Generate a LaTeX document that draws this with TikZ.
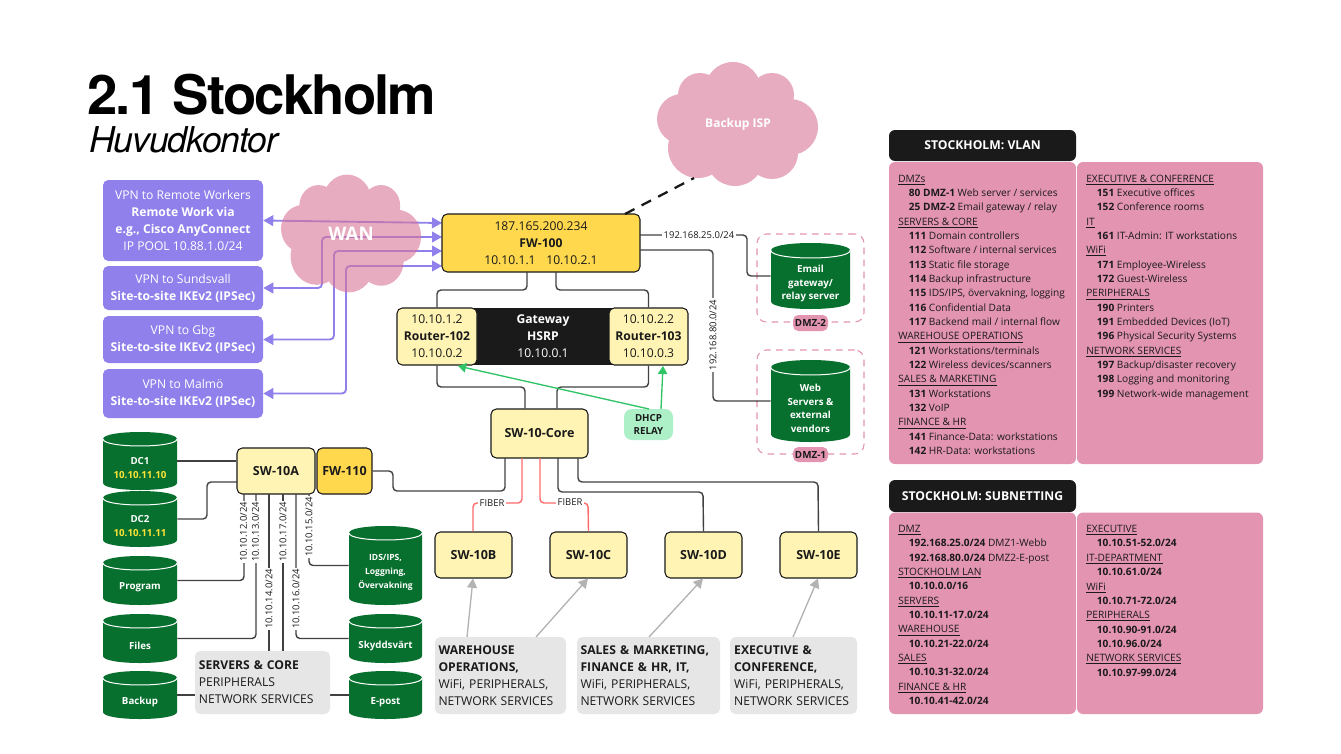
\documentclass[tikz,border=0pt]{standalone}
\usepackage{fontspec}
\setmainfont{Open Sans}
\newfontfamily\titlefont[LetterSpace=-3.4]{TeX Gyre Heros}
\newfontfamily\subtitlefont[LetterSpace=-3.2]{TeX Gyre Heros}
\usetikzlibrary{arrows.meta,calc}
\definecolor{cvpn}{HTML}{9080EC}
\definecolor{cpink}{HTML}{E394B0}
\definecolor{ccloud}{HTML}{DA7599}
\definecolor{cyel}{HTML}{FFF4B3}
\definecolor{cgold}{HTML}{FFD84D}
\definecolor{cblack}{HTML}{1A1A1A}
\definecolor{cgreen}{HTML}{08702E}
\definecolor{cgrey}{HTML}{E6E6E6}
\definecolor{cdhcp}{HTML}{ADF0C7}
\definecolor{cline}{HTML}{414141}
\definecolor{cred}{HTML}{FF6B6B}
\definecolor{cdhcpline}{HTML}{2FC466}
\definecolor{cgl}{HTML}{B3B3B3}
\definecolor{ctext}{HTML}{1A1A1A}
\newcommand{\fs}[2]{\fontsize{#1}{#2}\selectfont}
\newcommand{\bx}[7]{\node[#6,minimum width={(#4-#2)*0.75pt},minimum height={(#5-#3)*0.75pt}] (#1) at ({(#2+#4)/2},{(#3+#5)/2}) {#7};}
\newcommand{\cyl}[7]{%
 \pgfmathsetmacro{\ym}{#3+#6}\pgfmathsetmacro{\yt}{#3-#6/3}\pgfmathsetmacro{\ya}{#3+#6+1.33*#6}%
 \pgfmathsetmacro{\yb}{#5-#6}\pgfmathsetmacro{\yc}{#5+#6/3}%
 \fill[cgreen] (#2,\ym) .. controls (#2,\yt) and (#4,\yt) .. (#4,\ym) -- (#4,\yb) .. controls (#4,\yc) and (#2,\yc) .. (#2,\yb) -- cycle;
 \draw[white,line width=0.75pt] (#2,\ym) .. controls (#2,\ya) and (#4,\ya) .. (#4,\ym);
 \node[minimum width={(#4-#2)*0.75pt},minimum height={(#5-#3)*0.75pt},inner sep=0pt] (#1) at ({(#2+#4)/2},{(#3+#5)/2}) {};
 \node[cyltext] (#1-t) at ({(#2+#4)/2},{(#3+2*#6+#5)/2}) {#7};}
\newcommand{\cloudshape}[4]{%
 \begin{scope}[transparency group,opacity=.6]
 \begin{scope}[shift={(#1,#2)},xscale=#3,yscale=#4]
 \fill[ccloud] (-5,-34) circle[radius=28] (-38,-29) circle[radius=22] (34,-29) circle[radius=22] (-56,-5) circle[radius=25] (52,3) circle[radius=28] (-40,24) circle[radius=30] (-3,33) circle[radius=29] (34,29) circle[radius=26] (0,0) circle[radius=50];
 \end{scope}
 \end{scope}}
\newcommand{\hd}[1]{\underline{#1}}
\newcommand{\en}[2]{\hspace*{8pt}\textbf{#1} #2}
\tikzset{
 vpnbox/.style={fill=cvpn,rounded corners=4pt,inner sep=0pt,align=center,text=white,font=\fs{9.1}{12.75}},
 yelbox/.style={fill=cyel,draw=cblack,line width=.8pt,rounded corners=4pt,inner sep=0pt,align=center,text=ctext,font=\fs{9.1}{12.75}},
 goldbox/.style={yelbox,fill=cgold},
 blackbox/.style={fill=cblack,inner sep=0pt,align=center,text=white,font=\fs{9.1}{12.75}},
 greybox/.style={fill=cgrey,rounded corners=4pt,inner sep=0pt,text=ctext,font=\fs{9.1}{12.75},align=left},
 swtext/.style={font=\fs{9.4}{12.75}\bfseries},
 cyltext/.style={align=center,text=white,inner sep=0pt,font=\fs{7.3}{10.2}\bfseries},
 conn/.style={draw=cline,line width=1.05pt,rounded corners=3pt},
 fiber/.style={draw=cred,line width=1.05pt,rounded corners=3pt},
 vpnline/.style={draw=cvpn,line width=1.4pt,rounded corners=3pt},
 vpntip/.style={{Triangle[length=7.5pt,width=8pt]}-{Triangle[length=7.5pt,width=8pt]}},
 greenline/.style={draw=cdhcpline,line width=1pt,-{Triangle[length=6pt,width=7pt]}},
 greyline/.style={draw=cgl,line width=1pt,-{Triangle[length=7pt,width=7.5pt]}},
 lab/.style={fill=white,inner xsep=1pt,inner ysep=.5pt,text=ctext,font=\fs{7.1}{8.5}},
 dmzframe/.style={draw=cpink,dashed,dash pattern=on 5pt off 4pt,line width=.8pt,rounded corners=7pt},
 badge/.style={fill=cpink,rounded corners=4pt,inner sep=0pt,text=ctext,font=\fs{7.4}{9}\bfseries},
 panelhead/.style={fill=cblack,rounded corners=4.5pt,inner sep=0pt,text=white,font=\fs{9.15}{11}\bfseries},
 panel/.style={fill=cpink,rounded corners=4.5pt,inner sep=0pt},
 paneltext/.style={anchor=north west,inner sep=0pt,align=left,text=ctext,font=\fs{7.6}{10.76}},
}
\begin{document}
\begin{tikzpicture}[x=0.75pt,y=-0.75pt]
\useasboundingbox (0,0) rectangle (1341,753);
\fill[white] (0,0) rectangle (1341,753);
% title
\node[anchor=base west,inner sep=0pt,text=black,font=\titlefont\fs{40.9}{44}\bfseries] (title) at (87,114) {2.1 Stockholm};
\node[anchor=base west,inner sep=0pt,text=black,font=\subtitlefont\fs{26.7}{30}\itshape] (subtitle) at (89,152) {Huvudkontor};
% fw coordinates
\coordinate (f1) at (442,223);
\coordinate (f2) at (442,237);
\coordinate (f3) at (442,251);
\coordinate (f4) at (442,266);
\coordinate (v2) at (322,260);
\coordinate (v3) at (334,300);
\coordinate (v4) at (346,330);
% vpn boxes
\bx{vpn1}{103}{180}{263}{261}{vpnbox}{VPN to Remote Workers\\\textbf{Remote Work via}\\\textbf{e.g., Cisco AnyConnect}\\IP POOL 10.88.1.0/24}
\bx{vpn2}{103}{266}{263}{310}{vpnbox}{VPN to Sundsvall\\\textbf{Site-to-site IKEv2 (IPSec)}}
\bx{vpn3}{103}{316}{263}{363}{vpnbox}{VPN to Gbg\\\textbf{Site-to-site IKEv2 (IPSec)}}
\bx{vpn4}{103}{369}{263}{418}{vpnbox}{VPN to Malmö\\\textbf{Site-to-site IKEv2 (IPSec)}}
% vpn lines
\draw[vpnline,vpntip] (vpn1.east) -- (f1);
\draw[vpnline,vpntip] (vpn2.east) -| (v2) |- (f2);
\draw[vpnline,vpntip] (vpn3.east) -| (v3) |- (f3);
\draw[vpnline,vpntip] (vpn4.east) -| (v4) |- (f4);
% clouds
\cloudshape{351.5}{233.5}{0.87}{0.95}
\cloudshape{738}{124}{1}{1}
\node[inner sep=0pt,minimum width=106pt,minimum height=88pt,text=white,font=\fs{14}{16}\bfseries] (wan) at (351,234) {WAN};
\node[inner sep=0pt,minimum width=123pt,minimum height=91pt,text=white,font=\fs{9}{11}\bfseries] (isp) at (738,124.5) {Backup ISP};
% black hsrp + routers
\bx{hsrp}{470}{308}{616}{365}{blackbox}{\textbf{Gateway}\\\textbf{HSRP}\\10.10.0.1}
\bx{fw100}{442}{214}{640}{272}{goldbox}{187.165.200.234\\\textbf{FW-100}\\10.10.1.1\hspace{8pt}10.10.2.1}
\bx{r102}{397}{308}{477}{365}{yelbox}{10.10.1.2\\\textbf{Router-102}\\10.10.0.2}
\bx{r103}{609}{308}{688}{365}{yelbox}{10.10.2.2\\\textbf{Router-103}\\10.10.0.3}
\bx{core}{491}{409}{588}{458}{yelbox,swtext}{SW-10-Core}
\bx{dhcp}{624}{409}{673}{440}{fill=cdhcp,rounded corners=6pt,inner sep=0pt,align=center,text=ctext,font=\fs{7.3}{9.8}\bfseries}{DHCP\\RELAY}
% dashed backup
\coordinate (fwtop) at (625,214);
\coordinate (isplow) at (694,178);
\draw[black!90,line width=1.7pt,dash pattern=on 8pt off 6pt] (fwtop) -- (isplow);
% fw to routers
\coordinate (a1) at (527,272); \coordinate (a2) at (556,272);
\coordinate (a3) at (527,290); \coordinate (a4) at (556,290);
\draw[conn] (a1) -- (a3) -| (r102.north);
\draw[conn] (a2) -- (a4) -| (r103.north);
\coordinate (b1) at (525,387); \coordinate (b2) at (557,387);
\draw[conn] (r102.south) |- (b1) -- (b1 |- core.north);
\draw[conn] (r103.south) |- (b2) -- (b2 |- core.north);
% dhcp
\coordinate (d1) at (649,409); \coordinate (d2) at (661,409);
\coordinate (r2) at (458,366); \coordinate (r3) at (663,366);
\draw[greenline] (d1) -- (r2);
\draw[greenline] (d2) -- (r3);
% DMZ
\node[dmzframe,minimum width=80.25pt,minimum height=66pt] (dmz2f) at (810.5,278) {};
\node[dmzframe,minimum width=80.25pt,minimum height=78pt] (dmz1f) at (810.5,402) {};
\cyl{email}{771}{243}{850}{309}{7.5}{Email\\gateway/\\relay server}
\cyl{web}{771}{360}{850}{442}{7.5}{Web\\Servers \&\\external\\vendors}
\bx{dmzb2}{793}{315}{828}{331}{badge}{DMZ-2}
\bx{dmzb1}{793}{447}{828}{462}{badge}{DMZ-1}
\coordinate (e1) at (640,235); \coordinate (e2) at (747,255);
\coordinate (w1) at (640,250); \coordinate (w2) at (713,335);
\draw[conn] (e1) -| (e2) |- (email.west);
\draw[conn] (w1) -| (w2) |- (web.west);
\node[lab] (lab25) at (699,235) {192.168.25.0/24};
\node[lab,rotate=90] (lab80) at (713,335) {192.168.80.0/24};
% SW-10A group
\cyl{dc1}{103}{432}{177}{490}{7}{DC1\\\textcolor{cgold!70!yellow}{10.10.11.10}}
\cyl{dc2}{103}{491}{177}{547}{7}{DC2\\\textcolor{cgold!70!yellow}{10.10.11.11}}
\cyl{prog}{103}{556}{177}{605}{7}{Program}
\cyl{files}{103}{614}{177}{663}{7}{Files}
\cyl{backup}{103}{671}{177}{719}{7}{Backup}
\cyl{ids}{349}{526}{422}{605}{7}{\fs{6.4}{9}IDS/IPS,\\\fs{6.4}{9}Loggning,\\\fs{6.4}{9}Övervakning}
\cyl{skydd}{349}{614}{422}{663}{7}{Skyddsvärt}
\cyl{epost}{349}{671}{422}{719}{7}{E-post}
\bx{sw10a}{237}{448}{315}{494}{yelbox,swtext}{SW-10A}
\bx{fw110}{317}{448}{372}{494}{goldbox,swtext}{FW-110}
\coordinate (s1) at (244,494); \coordinate (s2) at (256,494); \coordinate (s3) at (269,494);
\coordinate (s4) at (283,494); \coordinate (s5) at (296,494); \coordinate (s6) at (309,494);
\coordinate (g3) at (269,660); \coordinate (g4) at (283,660);
\coordinate (k1) at (207,500);
\coordinate (sa) at (237,482);
\draw[conn] (dc1.east) -- (dc1.east -| sw10a.west);
\draw[conn] (dc2.east) -| (k1) |- (sa);
\draw[conn] (s1) |- (prog.east);
\draw[conn] (s2) |- (files.east);
\draw[conn] (s3) -- (g3);
\draw[conn] (s4) -- (g4);
\draw[conn] (s5) |- (skydd.west);
\draw[conn] (s6) |- (ids.west);
\draw[conn] (backup.east) -- (epost.west);
\bx{srv}{195}{651}{330}{714}{greybox,text width=100pt}{\hspace*{2.3pt}\textbf{SERVERS \& CORE}\\\hspace*{2.3pt}PERIPHERALS\\\hspace*{2.3pt}NETWORK SERVICES}
\node[lab,rotate=90] (l12) at (243.5,532) {10.10.12.0/24};
\node[lab,rotate=90] (l13) at (255.5,532) {10.10.13.0/24};
\node[lab,rotate=90] (l14) at (269,599) {10.10.14.0/24};
\node[lab,rotate=90] (l17) at (283,532) {10.10.17.0/24};
\node[lab,rotate=90] (l16) at (296,599) {10.10.16.0/24};
\node[lab,rotate=90] (l15) at (309,527) {10.10.15.0/24};
% access switches
\bx{swb}{435}{532}{512}{578}{yelbox,swtext}{SW-10B}
\bx{swc}{550}{532}{627}{578}{yelbox,swtext}{SW-10C}
\bx{swd}{665}{532}{742}{578}{yelbox,swtext}{SW-10D}
\bx{swe}{780}{532}{857}{578}{yelbox,swtext}{SW-10E}
\coordinate (c0) at (505,458); \coordinate (c1) at (522,458); \coordinate (c2) at (540,458);
\coordinate (c3) at (558,458); \coordinate (c4) at (578,458);
\coordinate (j0) at (393,491); \coordinate (j1) at (473,503); \coordinate (j2) at (588,503);
\coordinate (j3) at (703,492); \coordinate (j4) at (818,482);
\draw[conn] (c0) |- (j0) |- (fw110.east);
\draw[fiber] (c1) |- (j1) -- (swb.north -| j1);
\draw[fiber] (c2) |- (j2) -- (swc.north);
\draw[conn] (c3) |- (j3) -- (swd.north);
\draw[conn] (c4) |- (j4) -- (swe.north);
\node[lab] (fb) at (492,503) {FIBER};
\node[lab] (fc) at (570,502) {FIBER};
% grey boxes
\bx{gw}{435}{637}{566}{714}{greybox,text width=97.5pt}{\hspace*{2.3pt}\textbf{WAREHOUSE}\\\hspace*{2.3pt}\textbf{OPERATIONS,}\\\hspace*{2.3pt}WiFi, PERIPHERALS,\\\hspace*{2.3pt}NETWORK SERVICES}
\bx{gs}{577}{637}{720}{714}{greybox,text width=106.5pt}{\hspace*{2.3pt}\textbf{SALES \& MARKETING,}\\\hspace*{2.3pt}\textbf{FINANCE \& HR, IT,}\\\hspace*{2.3pt}WiFi, PERIPHERALS,\\\hspace*{2.3pt}NETWORK SERVICES}
\bx{ge}{730}{637}{857}{714}{greybox,text width=93.5pt}{\hspace*{2.3pt}\textbf{EXECUTIVE \&}\\\hspace*{2.3pt}\textbf{CONFERENCE,}\\\hspace*{2.3pt}WiFi, PERIPHERALS,\\\hspace*{2.3pt}NETWORK SERVICES}
\coordinate (p1) at (467,637); \coordinate (p2) at (536,637); \coordinate (p3) at (649,637); \coordinate (p4) at (793,637);
\coordinate (q1) at (473,578.5); \coordinate (q2) at (588,578.5); \coordinate (q3) at (703,578.5); \coordinate (q4) at (818,578.5);
\draw[greyline] (p1) -- (q1);
\draw[greyline] (p2) -- (q2);
\draw[greyline] (p3) -- (q3);
\draw[greyline] (p4) -- (q4);
% VLAN panels
\bx{vh}{889}{130}{1076}{161}{panelhead}{STOCKHOLM: VLAN}
\bx{vl}{889}{162}{1076}{464}{panel}{}
\bx{vr}{1077}{162}{1263}{464}{panel}{}
\node[paneltext] (vlt) at (898,174.5) {\hd{DMZs}\\\en{80 DMZ-1}{Web server / services}\\\en{25 DMZ-2}{Email gateway / relay}\\\hd{SERVERS \& CORE}\\\en{111}{Domain controllers}\\\en{112}{Software / internal services}\\\en{113}{Static file storage}\\\en{114}{Backup infrastructure}\\\en{115}{IDS/IPS, övervakning, logging}\\\en{116}{Confidential Data}\\\en{117}{Backend mail / internal flow}\\\hd{WAREHOUSE OPERATIONS}\\\en{121}{Workstations/terminals}\\\en{122}{Wireless devices/scanners}\\\hd{SALES \& MARKETING}\\\en{131}{Workstations}\\\en{132}{VoIP}\\\hd{FINANCE \& HR}\\\en{141}{Finance-Data: workstations}\\\en{142}{HR-Data: workstations}};
\node[paneltext] (vrt) at (1086,174.5) {\hd{EXECUTIVE \& CONFERENCE}\\\en{151}{Executive offices}\\\en{152}{Conference rooms}\\\hd{IT}\\\en{161}{IT-Admin: IT workstations}\\\hd{WiFi}\\\en{171}{Employee-Wireless}\\\en{172}{Guest-Wireless}\\\hd{PERIPHERALS}\\\en{190}{Printers}\\\en{191}{Embedded Devices (IoT)}\\\en{196}{Physical Security Systems}\\\hd{NETWORK SERVICES}\\\en{197}{Backup/disaster recovery}\\\en{198}{Logging and monitoring}\\\en{199}{Network-wide management}};
% Subnet panels
\bx{sh}{889}{480}{1076}{512}{panelhead}{STOCKHOLM: SUBNETTING}
\bx{sl}{889}{512.5}{1076}{714}{panel}{}
\bx{sr}{1077}{512.5}{1263}{714}{panel}{}
\node[paneltext] (slt) at (898,525) {\hd{DMZ}\\\en{192.168.25.0/24}{DMZ1-Webb}\\\en{192.168.80.0/24}{DMZ2-E-post}\\\hd{STOCKHOLM LAN}\\\en{10.10.0.0/16}{}\\\hd{SERVERS}\\\en{10.10.11-17.0/24}{}\\\hd{WAREHOUSE}\\\en{10.10.21-22.0/24}{}\\\hd{SALES}\\\en{10.10.31-32.0/24}{}\\\hd{FINANCE \& HR}\\\en{10.10.41-42.0/24}{}};
\node[paneltext] (srt) at (1086,525) {\hd{EXECUTIVE}\\\en{10.10.51-52.0/24}{}\\\hd{IT-DEPARTMENT}\\\en{10.10.61.0/24}{}\\\hd{WiFi}\\\en{10.10.71-72.0/24}{}\\\hd{PERIPHERALS}\\\en{10.10.90-91.0/24}{}\\\en{10.10.96.0/24}{}\\\hd{NETWORK SERVICES}\\\en{10.10.97-99.0/24}{}};
\end{tikzpicture}
\end{document}
